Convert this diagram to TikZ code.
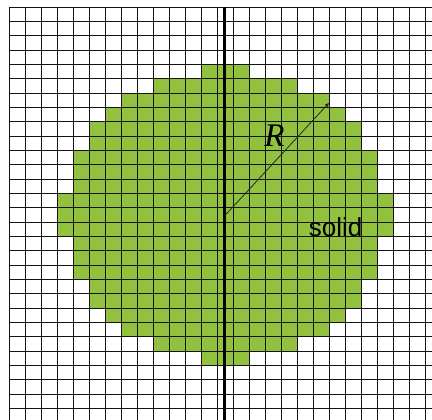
\documentclass[tikz,border=0pt]{standalone}
\usepackage{fontspec}
\setmainfont{Liberation Sans}
\newfontfamily\rmtimes{Liberation Serif}
\usepackage{xcolor}
\usepackage{tikz}
\usetikzlibrary{calc,arrows.meta,positioning}
\definecolor{solidGreen}{RGB}{145,193,62}
\definecolor{gridBlack}{RGB}{20,20,20}
\definecolor{radiusGray}{RGB}{40,40,40}

\begin{document}
\begin{tikzpicture}[x=16pt,y=-14.333pt,
  gridline/.style={gridBlack, line width=1pt},
  axisline/.style={black, line width=2.2pt},
  radius arrow/.style={radiusGray, line width=0.8pt, -{Latex[length=4.5pt,width=4pt]}}]
\useasboundingbox (-0.58,-0.51) rectangle (26.42,28.79);

% solid cells, row by row (row, half width)
\foreach \r/\h in {4/1.5,5/4.5,6/6.5,7/7.5,8/8.5,9/8.5,10/9.5,11/9.5,12/9.5,
                   13/10.5,14/10.5,15/10.5,16/9.5,17/9.5,18/9.5,19/8.5,20/8.5,
                   21/7.5,22/6.5,23/4.5,24/1.5}{
  \fill[solidGreen] (13.5-\h,\r) rectangle (13.5+\h,\r+1);
}

% grid
\foreach \c in {0,...,26}{
  \draw[gridline] (\c,0)--(\c,28.79);
}
\foreach \r in {0,...,28}{
  \draw[gridline] (0,\r)--(26.42,\r);
}
\draw[axisline] (13.45,0)--(13.45,28.79);

\coordinate (centre) at (13.5,14.5);
\coordinate (rim) at (20,6.65);
\draw[radius arrow] (centre)--(rim);
\node (rlabel) at (16.58,8.98) {\fontsize{33}{36}\selectfont\rmtimes\itshape R};
\node[anchor=base] (solidlabel) at (20.4,15.96) {\fontsize{26}{30}\selectfont solid};
\end{tikzpicture}
\end{document}
